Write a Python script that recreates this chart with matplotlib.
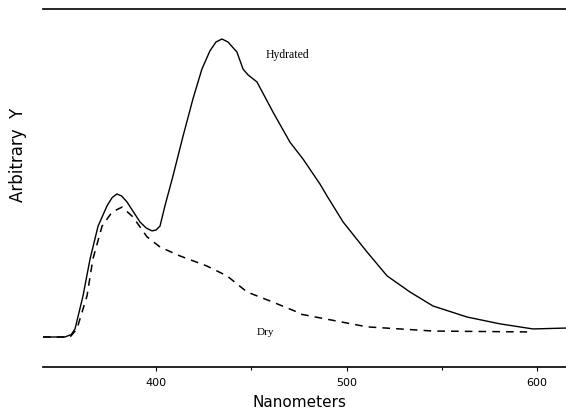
import numpy as np
import matplotlib.pyplot as plt

# Hydrated spectrum (wavelength nm, arbitrary intensity)
hyd_nm = [340.7, 352.2, 355.5, 357.5, 361.7, 365.4, 369.6, 374.3, 377.0, 379.5,
          382.0, 384.8, 391.6, 394.8, 397.9, 400.0, 402.1, 404.7, 408.9, 414.2,
          419.4, 424.1, 428.3, 431.5, 434.6, 437.8, 442.5, 445.7, 448.4, 453.0,
          461.4, 470.3, 477.2, 486.1, 489.8, 498.2, 510.8, 521.3, 533.3, 545.4,
          563.3, 580.6, 597.9, 615.2]
hyd_y = [0, 0, 0.8, 2.7, 13.8, 26.2, 37.2, 44.0, 46.8, 48.0,
         47.3, 45.3, 38.6, 36.6, 35.6, 35.9, 37.2, 44.0, 54.0, 67.4,
         79.9, 89.9, 96.0, 99.0, 100, 99.0, 95.6, 89.9, 87.9, 85.6,
         75.5, 65.4, 59.7, 51.3, 47.3, 38.6, 28.5, 20.5, 15.1, 10.4,
         6.7, 4.4, 2.7, 3.0]

# Dry spectrum
dry_nm = [340.7, 354.9, 358.5, 363.8, 366.9, 371.7, 376.9, 382.2, 387.9, 395.3,
          402.1, 412.6, 426.8, 437.3, 447.8, 461.4, 474.0, 475.6, 510.8, 545.4,
          594.8]
dry_y = [0, 0, 2.7, 13.8, 26.2, 37.2, 41.9, 43.6, 40.3, 33.6,
         30.2, 27.2, 23.8, 20.5, 15.1, 11.7, 8.4, 7.7, 3.4, 2.0,
         1.7]

major_ticks = [400, 500, 600]
minor_ticks = [450, 550]

fig = plt.figure(figsize=(5.66, 4.10), dpi=100)
ax = fig.add_axes([43 / 566, 42 / 410, 523 / 566, 358 / 410])

ax.plot(hyd_nm, hyd_y, color='black', lw=1.0, solid_joinstyle='round')
ax.plot(dry_nm, dry_y, color='black', lw=1.1, linestyle=(0, (5, 4)))

ax.text(469, 95, 'Hydrated', family='Liberation Serif', fontsize=8.5,
        ha='center', va='center')
ax.text(457.5, 2, 'Dry', family='Liberation Serif', fontsize=8,
        ha='center', va='center')

ax.set_xlim(340.7, 615.2)
ax.set_ylim(-10.07, 110.07)
ax.set_xticks(major_ticks)
ax.set_xticks(minor_ticks, minor=True)
ax.set_yticks([])
ax.tick_params(axis='x', which='major', length=3, width=0.8, pad=4, labelsize=8)
ax.tick_params(axis='x', which='minor', length=2, width=0.8)

for side in ['left', 'right']:
    ax.spines[side].set_visible(False)
ax.spines['top'].set_linewidth(1.2)
ax.spines['bottom'].set_linewidth(1.2)

fig.text(299 / 566, 1 - 403 / 410, 'Nanometers', fontsize=11,
         ha='center', va='center')
fig.text(18 / 566, 1 - 155 / 410, 'Arbitrary  Y', fontsize=12,
         rotation=90, ha='center', va='center')

fig.savefig('out.png', dpi=100)
